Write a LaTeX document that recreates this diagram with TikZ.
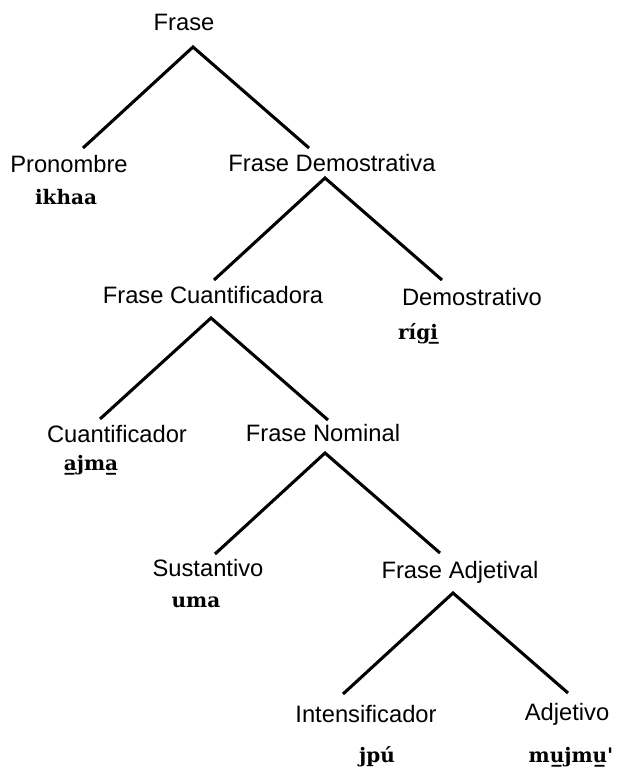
\documentclass[tikz,border=0pt]{standalone}
\usepackage{fontspec}
\setmainfont{Liberation Sans}
\newfontfamily\wordfont{DejaVu Serif}
\begin{document}
\begin{tikzpicture}[x=0.75pt,y=-0.75pt,
  lab/.style={font=\fontsize{17.8}{20}\selectfont, inner sep=0pt},
  wrd/.style={font=\wordfont\bfseries\fontsize{15}{17}\selectfont, inner sep=0pt},
  br/.style={line width=2.3pt}]
\useasboundingbox (0,0) rectangle (628,780);
% labels
\node[lab] (frase) at (184,22) {Frase};
\node[lab] (pron) at (69,164) {Pronombre};
\node[lab] (fdem) at (332,163) {Frase Demostrativa};
\node[lab] (fcuant) at (213,295) {Frase Cuantificadora};
\node[lab] (dem) at (472,297) {Demostrativo};
\node[lab] (cuant) at (117,434) {Cuantificador};
\node[lab] (fnom) at (323,433) {Frase Nominal};
\node[lab] (sust) at (208,568) {Sustantivo};
\node[lab] (fadj) at (460,572) {Frase Adjetival};
\node[lab] (intens) at (366,714) {Intensificador};
\node[lab] (adj) at (567,714) {Adjetivo};
% words
\node[wrd] (w1) at (66,197) {ikhaa};
\node[wrd] (w2) at (418,334) {r\'{\i}g\b{i}};
\node[wrd] (w3) at (91,465) {\b{a}jm\b{a}};
\node[wrd] (w4) at (196,602) {uma};
\node[wrd] (w5) at (377,757) {jp\'u};
\node[wrd] (w6) at (571,757) {m\b{u}jm\b{u}'};
% branch points
\coordinate (a1) at (193,47);
\coordinate (a1l) at (83,148);
\coordinate (a1r) at (309,148);
\coordinate (a2) at (325,178);
\coordinate (a2l) at (214,280);
\coordinate (a2r) at (442,280);
\coordinate (a3) at (211,318);
\coordinate (a3l) at (100,419);
\coordinate (a3r) at (328,420);
\coordinate (a4) at (325,453);
\coordinate (a4l) at (215,554);
\coordinate (a4r) at (440,553);
\coordinate (a5) at (453,593);
\coordinate (a5l) at (343,694);
\coordinate (a5r) at (568,693);
\draw[br] (a1l) -- (a1) -- (a1r);
\draw[br] (a2l) -- (a2) -- (a2r);
\draw[br] (a3l) -- (a3) -- (a3r);
\draw[br] (a4l) -- (a4) -- (a4r);
\draw[br] (a5l) -- (a5) -- (a5r);
\end{tikzpicture}
\end{document}
